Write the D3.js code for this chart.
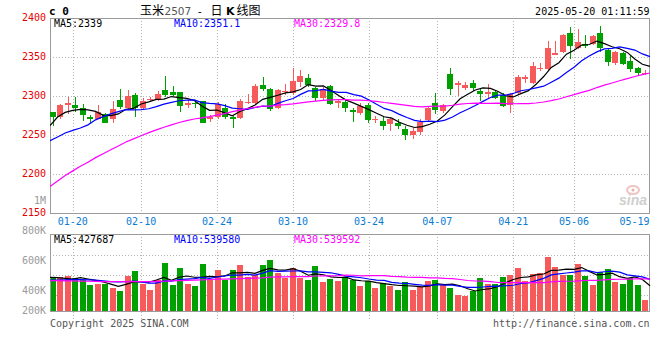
<!DOCTYPE html>
<html><head><meta charset="utf-8">
<script src="https://cdn.jsdelivr.net/npm/d3@7"></script>
<style>
body{margin:0;background:#fff;}
svg{display:block;}
.mono{font-family:"DejaVu Sans Mono",monospace;font-size:10px;}
</style>
</head><body>
<svg id="chart" width="660" height="360"></svg>
<script>
// ---------------- DATA ----------------
const dates = ["01-15","01-16","01-17","01-20","01-21","01-22","01-23","01-24","01-27",
"02-05","02-06","02-07","02-10","02-11","02-12","02-13","02-14","02-17","02-18","02-19","02-20","02-21",
"02-24","02-25","02-26","02-27","02-28","03-03","03-04","03-05","03-06","03-07","03-10","03-11","03-12","03-13","03-14",
"03-17","03-18","03-19","03-20","03-21","03-24","03-25","03-26","03-27","03-28","03-31",
"04-01","04-02","04-03","04-07","04-08","04-09","04-10","04-11","04-14","04-15","04-16","04-17","04-18",
"04-21","04-22","04-23","04-24","04-25","04-28","04-29","04-30",
"05-06","05-07","05-08","05-09","05-12","05-13","05-14","05-15","05-16","05-19","05-20"];

const open  = [2279,2273,2288,2288.5,2284.5,2272.5,2271,2277,2270,2295,
2284,2301,2284,2296,2295.5,2307.5,2305.5,2304.5,2288.5,2291.5,
2293,2270,2273.5,2285,2273,2271.5,2291.5,2290.5,2314,2308.5,
2285,2306.5,2303.5,2318.5,2322.5,2310,2298,2313,2290.5,2292.5,
2282,2278,2288.5,2269.3,2268,2264,2265,2258,2250.5,2253.3,
2269.5,2290.8,2281.4,2328.2,2314.6,2310,2317.1,2306.5,2302.3,2305.5,
2301.3,2288.5,2303.4,2321.3,2317,2335,2334.5,2352.8,2356.6,2380.9,
2361.7,2367.3,2366.4,2380.9,2358.7,2341.7,2354.5,2344.7,2336.2,2327.7];
const high  = [2280,2289.5,2299,2299,2290,2276,2289,2278,2293,2309,
2308,2303.5,2298,2299,2306.5,2325.5,2313,2305.5,2295,2295,
2294,2275.5,2292,2290,2274,2296,2302.5,2316,2324.5,2310,
2308.5,2316,2336.5,2333,2328,2312,2311,2314.5,2295.5,2295.5,
2285,2290.5,2291.5,2274.5,2275,2273,2270,2261.5,2259.5,2270,
2286.5,2304,2290,2335.5,2319.7,2318,2320,2308.5,2315,2307,
2303.4,2304.3,2326.8,2326.8,2343,2342.6,2370.2,2370.2,2380,2388.5,
2386.4,2378,2378,2389.4,2362.1,2358,2356.6,2353.2,2337.5,2333];
const low   = [2261,2270,2277,2279,2268,2265,2270,2265,2265,2283,
2283,2273.5,2283,2293,2294,2299,2300,2280,2284,2285,
2265,2266.5,2270,2271,2259.5,2270,2289.5,2289,2307,2281,
2283,2301.5,2301.5,2311,2312,2293,2295.5,2288.5,2284,2279,
2267,2275.5,2266,2265,2256,2254.5,2258,2243.5,2244.5,2250,
2268,2277,2278,2301.4,2300.1,2308,2306.5,2294,2298,2296,
2285.5,2278.7,2302,2316.2,2315.3,2332,2332,2352,2354.5,2346.8,
2360,2362,2365,2356.6,2338.3,2340,2339.6,2331,2326.8,2327];
const close = [2273.6,2288.5,2291.5,2285,2276,2270,2279,2266,2283.5,2286.5,
2300,2285,2294,2296.5,2303,2301.5,2301.5,2287.5,2291.5,2289.5,
2266,2273.5,2289.5,2273.5,2270,2294,2292,2313,2309.5,2283,
2307.5,2307,2319,2325.5,2314,2298,2308.5,2290,2293,2284,
2279,2287.5,2269,2270,2261.5,2270,2261,2250,2255.5,2267.3,
2285.2,2282.2,2288.6,2308.7,2317.1,2314.2,2310,2302.3,2304.9,2297,
2287.2,2302.6,2323.8,2323.8,2338.3,2336.2,2360.9,2354.5,2378.3,2363.9,
2369.4,2363.9,2376.6,2362.1,2343.8,2356.6,2340.4,2334,2328.9,2329.8];
const volume = [560000,588000,605000,571000,531000,445000,468000,468000,394000,343000,
605000,691000,468000,360000,531000,822000,445000,737000,463000,428000,
805000,531000,708000,531000,702000,788000,588000,617000,788000,874000,
657000,571000,737000,571000,531000,771000,497000,554000,520000,560000,
531000,428000,520000,394000,480000,434000,360000,497000,360000,417000,
520000,531000,440000,400000,274000,263000,337000,571000,468000,457000,
588000,617000,742000,520000,634000,657000,931000,754000,617000,617000,
805000,605000,445000,668000,725000,497000,468000,565000,445000,188000];

// moving-average values before a full window exists
const ma5Head  = [2262,2273,2279,2281.5];
const ma10Head = [2242.6,2247.5,2252.5,2256,2259,2263,2269.4,2273.5,2277];
const ma30Head = [2184,2191,2198,2204,2210,2215,2221,2226,2231,2236,2241,2245,2249,2253,2256.5,
2260,2263,2266,2268.5,2270.5,2272,2273.5,2275.5,2277.5,2280,2282,2284,2285.5,2287];
const vma5Head  = [577000,571000,560000,548000];
const vma10Head = [531000,531000,534000,537000,537000,534000,528000,517000,505000];
const vma30Head = [520000,520000,518000,515000,512000,510000,507000,505000,504000,503000,503000,503000,504000,505000,507000,
510000,515000,520000,525000,530000,535000,540000,545000,548000,552000,556000,560000,563000,567000];

const tickDates  = ["01-20","02-10","02-24","03-10","03-24","04-07","04-21","05-06","05-19"];
const priceTicks = [2400,2350,2300,2250,2200,2150];
const priceGrid  = [2350,2300,2250,2200];
const volTickValues = [1000000,800000,600000,400000,200000];
const volTickLabels = ["1M","800K","600K","400K","200K"];
const priceLegend = ["MA5:2339","MA10:2351.1","MA30:2329.8"];
const volLegend   = ["MA5:427687","MA10:539580","MA30:539592"];
const maColors = ["#000000","#0000ff","#ff00ff"];

// ---------------- LAYOUT ----------------
const L = 50, R = 649.5;
const pTop = 18, pBot = 213;
const vTop = 234, vBot = 311;
const UP = "#f65a5a", DOWN = "#00a000";
const GRID = "#b4b4b4", BORDER = "#9a9a9a";

const svg = d3.select("#chart");

const xBand = d3.scaleBand().domain(dates).range([49, 649]).paddingInner(0.2).paddingOuter(0.1);
const xPoint = d3.scalePoint().domain(dates).range([50, 650]);
const y = d3.scaleLinear().domain([2150, 2400]).range([pBot, pTop]);
const vy = d3.scaleLinear().domain([0, 1320000]).range([vBot, vTop]);
const volLabelY = d3.scaleLinear().domain([400000, 1000000]).range([294, 204]);

function ma(vals, n, head) {
  return vals.map((v, i) => i < n - 1 ? head[i] : d3.mean(vals.slice(i - n + 1, i + 1)));
}
const pm = [ma(close,5,ma5Head), ma(close,10,ma10Head), ma(close,30,ma30Head)];
const vm = [ma(volume,5,vma5Head), ma(volume,10,vma10Head), ma(volume,30,vma30Head)];

// ---------------- HEADER ----------------
svg.append("text").attr("x", 49).attr("y", 15)
  .style("font-family", "'DejaVu Sans Mono',monospace").style("font-size", "11px").style("font-weight", "bold")
  .text("c 0");

const title = svg.append("text").attr("y", 14.5).style("font-size", "12px");
title.append("tspan").attr("x", 140).style("font-family", "'Noto Sans CJK SC'").text("玉米");
title.append("tspan").attr("x", 164.5).style("font-family", "'DejaVu Sans'").style("font-size", "10.5px").attr("fill", "#555").text("2507");
title.append("tspan").attr("x", 196.5).style("font-family", "'DejaVu Sans Mono'").style("font-size", "11px").text("-");
title.append("tspan").attr("x", 210.5).style("font-family", "'Noto Sans CJK SC'").text("日");
title.append("tspan").attr("x", 226).style("font-family", "'DejaVu Sans'").style("font-weight", "bold").style("font-size", "11px").text("K");
title.append("tspan").attr("x", 236.5).style("font-family", "'Noto Sans CJK SC'").text("线图");

svg.append("text").attr("class", "mono").attr("x", 649.5).attr("y", 15).attr("text-anchor", "end")
  .text("2025-05-20 01:11:59");

// ---------------- WATERMARK ----------------
const wm = svg.append("g");
wm.append("ellipse").attr("cx", 633).attr("cy", 190).attr("rx", 6).attr("ry", 4)
  .attr("fill", "none").attr("stroke", "#f0c4c4").attr("stroke-width", 2);
wm.append("circle").attr("cx", 633).attr("cy", 190).attr("r", 1.6).attr("fill", "#e8b0b0");
wm.append("text").attr("x", 619).attr("y", 205)
  .style("font-family", "'Liberation Sans',Arial").style("font-size", "14px")
  .style("font-weight", "bold").style("font-style", "italic").attr("fill", "#cfcfcf").text("sina");

// ---------------- PRICE PANEL ----------------
const gridDates = tickDates.slice(0, -1);
const pg = svg.append("g").attr("shape-rendering", "crispEdges");
pg.selectAll("line.hg").data(priceGrid).join("line")
  .attr("x1", L).attr("x2", R)
  .attr("y1", d => Math.round(y(d)) + 0.5).attr("y2", d => Math.round(y(d)) + 0.5)
  .attr("stroke", GRID).attr("stroke-dasharray", "1,2");
pg.selectAll("line.vg").data(gridDates).join("line")
  .attr("x1", d => Math.round(xPoint(d)) + 0.5).attr("x2", d => Math.round(xPoint(d)) + 0.5)
  .attr("y1", pTop).attr("y2", pBot)
  .attr("stroke", GRID).attr("stroke-dasharray", "1,2");
pg.append("rect").attr("x", L + 0.5).attr("y", pTop + 0.5).attr("width", R - L - 1).attr("height", pBot - pTop)
  .attr("fill", "none").attr("stroke", BORDER);

// y labels
svg.selectAll("text.py").data(priceTicks).join("text").attr("class", "mono py")
  .attr("x", 46).attr("y", d => y(d) + 2.5).attr("text-anchor", "end").attr("fill", "#e60000")
  .text(d => d);

// x labels
svg.selectAll("text.xl").data(tickDates).join("text").attr("class", "mono xl")
  .attr("x", d => Math.min(xPoint(d), 634.5)).attr("y", 225).attr("text-anchor", "middle")
  .attr("fill", "#0a7cd2").text(d => d);

// candles
const cg = svg.append("g").attr("shape-rendering", "crispEdges");
const idx = d3.range(dates.length);
cg.selectAll("rect.wick").data(idx).join("rect")
  .attr("x", i => Math.round(xBand(dates[i])) + 2.5)
  .attr("width", 1)
  .attr("y", i => y(high[i]))
  .attr("height", i => Math.max(1, y(low[i]) - y(high[i])))
  .attr("fill", i => close[i] >= open[i] ? UP : DOWN);
cg.selectAll("rect.body").data(idx).join("rect")
  .attr("x", i => Math.round(xBand(dates[i])))
  .attr("width", 6)
  .attr("y", i => y(Math.max(open[i], close[i])))
  .attr("height", i => Math.max(1, Math.abs(y(open[i]) - y(close[i]))))
  .attr("fill", i => close[i] >= open[i] ? UP : DOWN);

svg.append("clipPath").attr("id", "pclip").append("rect")
  .attr("x", L).attr("y", pTop).attr("width", R - L + 2).attr("height", pBot - pTop);
svg.append("clipPath").attr("id", "vclip").append("rect")
  .attr("x", L).attr("y", vTop).attr("width", R - L + 2).attr("height", vBot - vTop);

const pl = d3.line().x((d, i) => xPoint(dates[i])).y(d => y(d));
svg.append("g").attr("clip-path", "url(#pclip)").selectAll("path").data(pm).join("path")
  .attr("d", pl).attr("fill", "none").attr("stroke", (d, k) => maColors[k]).attr("stroke-width", 1.2);

// legend
svg.selectAll("text.pleg").data(priceLegend).join("text").attr("class", "mono pleg")
  .attr("x", (d, k) => 54 + 120 * k).attr("y", 27).attr("fill", (d, k) => maColors[k]).text(d => d);

// ---------------- VOLUME PANEL ----------------
const vgG = svg.append("g").attr("shape-rendering", "crispEdges");
[255.5, 275.5, 295.5].forEach(yy => {
  vgG.append("line").attr("x1", L).attr("x2", R).attr("y1", yy).attr("y2", yy)
    .attr("stroke", GRID).attr("stroke-dasharray", "1,2");
});
vgG.selectAll("line.vvg").data(gridDates).join("line")
  .attr("x1", d => Math.round(xPoint(d)) + 0.5).attr("x2", d => Math.round(xPoint(d)) + 0.5)
  .attr("y1", vTop).attr("y2", 321)
  .attr("stroke", GRID).attr("stroke-dasharray", "1,2");

svg.append("g").attr("shape-rendering", "crispEdges").selectAll("rect").data(idx).join("rect")
  .attr("x", i => Math.round(xBand(dates[i])))
  .attr("width", 6)
  .attr("y", i => Math.round(vy(volume[i])))
  .attr("height", i => vBot - Math.round(vy(volume[i])))
  .attr("fill", i => close[i] >= open[i] ? UP : DOWN);

svg.append("rect").attr("shape-rendering", "crispEdges")
  .attr("x", L + 0.5).attr("y", vTop + 0.5).attr("width", R - L - 1).attr("height", vBot - vTop)
  .attr("fill", "none").attr("stroke", BORDER);

const vl = d3.line().x((d, i) => xPoint(dates[i])).y(d => vy(d));
svg.append("g").attr("clip-path", "url(#vclip)").selectAll("path").data(vm).join("path")
  .attr("d", vl).attr("fill", "none").attr("stroke", (d, k) => maColors[k]).attr("stroke-width", 1.2);

svg.selectAll("text.vleg").data(volLegend).join("text").attr("class", "mono vleg")
  .attr("x", (d, k) => 54 + 120 * k).attr("y", 243).attr("fill", (d, k) => maColors[k]).text(d => d);

svg.selectAll("text.vy").data(volTickValues).join("text").attr("class", "mono vy")
  .attr("x", 46).attr("y", d => Math.min(volLabelY(d), 314)).attr("text-anchor", "end")
  .attr("fill", "#9a9a9a").text((d, k) => volTickLabels[k]);

// ---------------- FOOTER ----------------
svg.append("text").attr("class", "mono").attr("x", 50).attr("y", 326.5).attr("fill", "#555")
  .text("Copyright 2025 SINA.COM");
svg.append("text").attr("class", "mono").attr("x", 649.5).attr("y", 326.5).attr("text-anchor", "end")
  .attr("fill", "#555").text("http://finance.sina.com.cn");
</script>
</body></html>
